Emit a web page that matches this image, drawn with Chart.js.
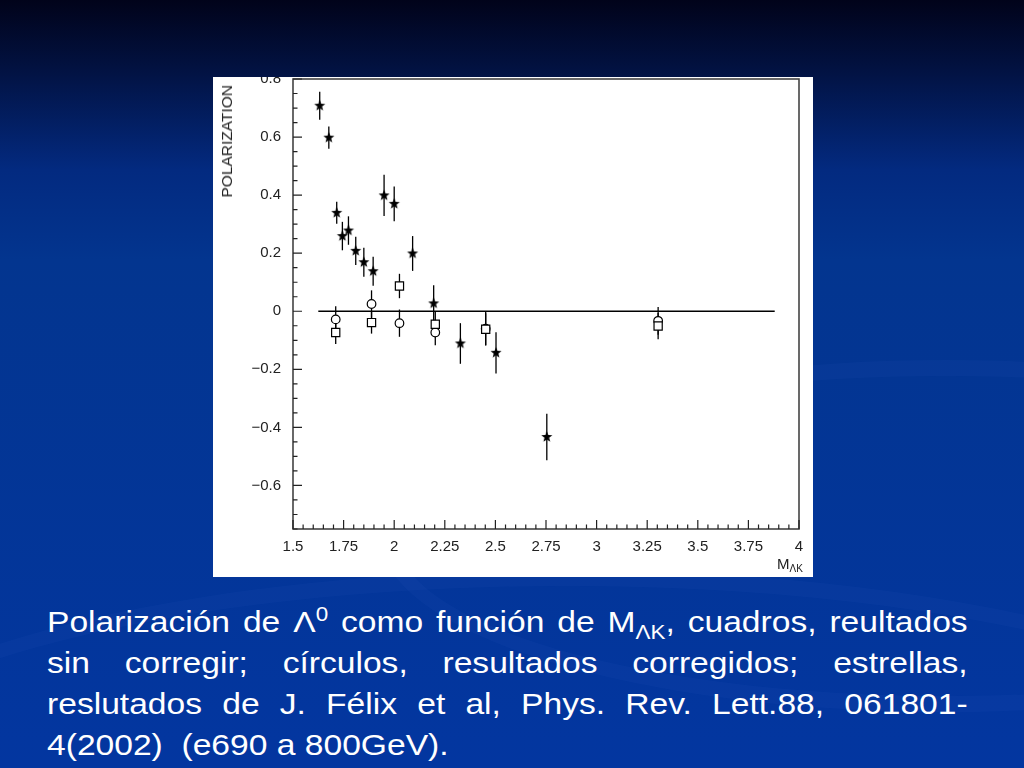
<!DOCTYPE html>
<html>
<head>
<meta charset="utf-8">
<script src="https://cdn.jsdelivr.net/npm/chart.js@4.4.1/dist/chart.umd.min.js"></script>
<style>
  html, body { margin: 0; padding: 0; }
  body {
    width: 1024px; height: 768px; overflow: hidden; position: relative;
    background: linear-gradient(to bottom, #01031a 0px, #021242 70px, #032a80 170px, #03358f 260px, #0336a0 768px);
    font-family: "Liberation Sans", Arial, sans-serif;
  }
  .swirl { position: absolute; border-radius: 50%; border: 16px solid rgba(120,160,255,0.04); }
  #panel { position: absolute; left: 213px; top: 77px; width: 600px; height: 500px; background: #fff; overflow: hidden; }
  #polarization_chart { position: absolute; left: 0; top: -5px; }
  #ytitle {
    position: absolute; left: 6px; top: 8px; font-size: 15.5px; line-height: 16px; color: #222;
    writing-mode: vertical-rl; transform: rotate(180deg);
  }
  #xtitle { position: absolute; left: 564px; top: 479px; font-size: 15px; line-height: 15px; color: #222; }
  #xtitle sub { font-size: 10px; vertical-align: -3px; line-height: 0; }
  #caption {
    position: absolute; left: 47px; top: 601px; width: 822px; color: #fff;
    font-size: 30px; line-height: 41px; text-align: justify;
    transform: scaleX(1.12); transform-origin: 0 0;
  }
  #caption sup, #caption sub { font-size: 20px; line-height: 0; }
  #caption sup { vertical-align: 11px; }
  #caption sub { vertical-align: -7px; }
</style>
</head>
<body>
<div class="swirl" style="left:380px; top:360px; width:1100px; height:320px;"></div>
<div class="swirl" style="left:-200px; top:570px; width:1500px; height:420px;"></div>

<div id="panel">
  <canvas id="polarization_chart" width="600" height="505"></canvas>
  <div id="ytitle">POLARIZATION</div>
  <div id="xtitle">M<sub>ΛK</sub></div>
</div>

<div id="caption">Polarización de Λ<sup>0</sup> como función de M<sub>ΛK</sub>, cuadros, reultados sin corregir; círculos, resultados corregidos; estrellas, reslutados de J. Félix et al, Phys. Rev. Lett.88, 061801-&#8203;4(2002)&nbsp; (e690 a 800GeV).</div>

<script>
// estrellas: J. Félix et al
const starMass = [1.632, 1.677, 1.716, 1.744, 1.774, 1.810, 1.850, 1.896, 1.950, 2.000, 2.091, 2.195, 2.327, 2.503, 2.754];
const starPol  = [0.708, 0.598, 0.339, 0.259, 0.278, 0.208, 0.169, 0.138, 0.399, 0.370, 0.199, 0.027, -0.111, -0.143, -0.433];
const starErr  = [0.048, 0.038, 0.038, 0.049, 0.049, 0.049, 0.050, 0.050, 0.071, 0.060, 0.060, 0.063, 0.070, 0.071, 0.080];

// círculos: resultados corregidos
const circMass = [1.711, 1.888, 2.026, 2.203, 2.452, 3.304];
const circPol  = [-0.028, 0.025, -0.041, -0.073, -0.060, -0.033];
const circErr  = [0.045, 0.047, 0.047, 0.044, 0.058, 0.048];

// cuadros: sin corregir
const sqMass = [1.711, 1.888, 2.026, 2.203, 2.452, 3.304];
const sqPol  = [-0.073, -0.039, 0.087, -0.045, -0.062, -0.051];
const sqErr  = [0.040, 0.038, 0.042, 0.045, 0.055, 0.045];

const zeroLineMass = [1.625, 3.88];

const xTickLabels = [1.5, 1.75, 2, 2.25, 2.5, 2.75, 3, 3.25, 3.5, 3.75, 4];
const yTickLabels = [-0.6, -0.4, -0.2, 0, 0.2, 0.4, 0.6, 0.8];

const tickFont = { family: '"Liberation Sans", Arial, sans-serif', size: 15 };

function makeStar(r) {
  const c = document.createElement('canvas');
  const s = Math.ceil(r * 2 + 2);
  c.width = s; c.height = s;
  const g = c.getContext('2d');
  g.beginPath();
  for (let i = 0; i < 10; i++) {
    const rad = i % 2 ? r * 0.42 : r;
    const a = -Math.PI / 2 + i * Math.PI / 5;
    g.lineTo(s / 2 + rad * Math.cos(a), s / 2 + rad * Math.sin(a));
  }
  g.closePath();
  g.fillStyle = '#000';
  g.fill();
  return c;
}

const pts = (xs, ys) => xs.map((x, i) => ({ x: x, y: ys[i] }));

// vertical error bars, under the markers
const errorBars = {
  id: 'errorBars',
  beforeDatasetsDraw(chart) {
    const { ctx, scales: { x, y } } = chart;
    ctx.save();
    ctx.strokeStyle = '#000';
    ctx.lineWidth = 1.3;
    chart.data.datasets.forEach(ds => {
      if (!ds.errors) return;
      ds.data.forEach((p, i) => {
        const px = x.getPixelForValue(p.x);
        ctx.beginPath();
        ctx.moveTo(px, y.getPixelForValue(p.y - ds.errors[i]));
        ctx.lineTo(px, y.getPixelForValue(p.y + ds.errors[i]));
        ctx.stroke();
      });
    });
    ctx.restore();
  }
};

// frame and inward ticks
const frame = {
  id: 'frame',
  afterDraw(chart) {
    const { ctx, chartArea: a, scales: { x, y } } = chart;
    ctx.save();
    ctx.strokeStyle = '#444';
    ctx.lineWidth = 1.6;
    ctx.strokeRect(a.left, a.top, a.right - a.left, a.bottom - a.top);
    ctx.lineWidth = 1.2;
    ctx.strokeStyle = '#222';
    ctx.beginPath();
    for (let k = 0; k <= 50; k++) {
      const v = 1.5 + k * 0.05;
      const px = x.getPixelForValue(v);
      const len = k % 5 === 0 ? 9 : 4.5;
      ctx.moveTo(px, a.bottom);
      ctx.lineTo(px, a.bottom - len);
    }
    for (let k = 0; k <= 31; k++) {
      const v = -0.75 + k * 0.05;
      const py = y.getPixelForValue(v);
      const major = Math.abs(Math.round(v * 5) - v * 5) < 1e-6;
      ctx.moveTo(a.left, py);
      ctx.lineTo(a.left + (major ? 9 : 4.5), py);
    }
    ctx.stroke();
    ctx.restore();
  }
};

const polarization_chart = document.getElementById('polarization_chart');

new Chart(polarization_chart, {
  type: 'scatter',
  data: {
    datasets: [
      {
        type: 'line',
        data: pts(zeroLineMass, [0, 0]),
        borderColor: '#000',
        borderWidth: 1.3,
        pointRadius: 0
      },
      {
        label: 'estrellas',
        data: pts(starMass, starPol),
        errors: starErr,
        pointStyle: makeStar(5.8),
        pointRadius: 6
      },
      {
        label: 'cuadros',
        data: pts(sqMass, sqPol),
        errors: sqErr,
        pointStyle: 'rect',
        pointRadius: 5.8,
        pointBackgroundColor: '#fff',
        pointBorderColor: '#000',
        pointBorderWidth: 1.2
      },
      {
        label: 'círculos',
        data: pts(circMass, circPol),
        errors: circErr,
        pointStyle: 'circle',
        pointRadius: 4.3,
        pointBackgroundColor: '#fff',
        pointBorderColor: '#000',
        pointBorderWidth: 1.2
      }
    ]
  },
  options: {
    responsive: false,
    animation: false,
    layout: { padding: { top: 2, right: 14, bottom: 0, left: 0 } },
    plugins: {
      legend: { display: false },
      tooltip: { enabled: false }
    },
    scales: {
      x: {
        type: 'linear',
        min: 1.5,
        max: 4,
        afterBuildTicks: s => { s.ticks = xTickLabels.map(v => ({ value: v })); },
        afterFit: s => { s.height = 48; s.paddingLeft = 0; s.paddingRight = 0; },
        grid: { display: false, drawTicks: false },
        border: { display: false },
        ticks: {
          padding: 9,
          font: tickFont,
          color: '#222',
          maxRotation: 0,
          autoSkip: false,
          callback: v => String(v)
        }
      },
      y: {
        type: 'linear',
        min: -0.75,
        max: 0.8,
        afterBuildTicks: s => { s.ticks = yTickLabels.map(v => ({ value: v })); },
        afterFit: s => { s.width = 80; s.paddingTop = 0; s.paddingBottom = 0; },
        grid: { display: false, drawTicks: false },
        border: { display: false },
        ticks: {
          padding: 12,
          font: tickFont,
          color: '#222',
          autoSkip: false,
          callback: v => String(Math.round(v * 10) / 10).replace('-', '\u2212')
        }
      }
    }
  },
  plugins: [errorBars, frame]
});
</script>
</body>
</html>
